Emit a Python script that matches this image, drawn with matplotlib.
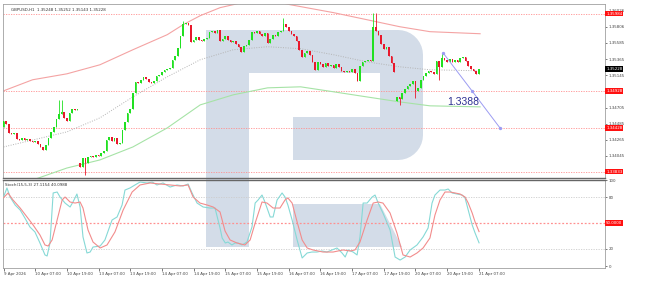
import numpy as np
import matplotlib.pyplot as plt
from matplotlib.patches import Polygon

# GBPUSD H1 closes, bar 0 = 9 Apr 19:00
closes = [
    1.34523, 1.34482, 1.34359, 1.34345, 1.34359, 1.34277, 1.34264, 1.34291, 1.34264, 1.34277,
    1.34250, 1.34236, 1.34250, 1.34209, 1.34168, 1.34127, 1.34195, 1.34291, 1.34373, 1.34441,
    1.34550, 1.34618, 1.34646, 1.34564, 1.34523, 1.34632, 1.34687, 1.34673, 1.34680, 1.33895,
    1.34018, 1.33950, 1.34032, 1.34045, 1.34032, 1.34059, 1.34045, 1.34086, 1.34114, 1.34264,
    1.34304, 1.34250, 1.34291, 1.34209, 1.34223, 1.34400, 1.34509, 1.34632, 1.34687, 1.34905,
    1.35055, 1.35042, 1.35083, 1.35123, 1.35096, 1.35055, 1.35042, 1.35069, 1.35137, 1.35151,
    1.35192, 1.35219, 1.35233, 1.35246, 1.35356, 1.35410, 1.35519, 1.35683, 1.35847, 1.35861,
    1.35833, 1.35601, 1.35629, 1.35669, 1.35629, 1.35615, 1.35642, 1.35650, 1.35738, 1.35751,
    1.35724, 1.35765, 1.35615, 1.35642, 1.35683, 1.35629, 1.35601, 1.35615, 1.35574, 1.35533,
    1.35465, 1.35547, 1.35560, 1.35629, 1.35738, 1.35724, 1.35751, 1.35710, 1.35683, 1.35724,
    1.35588, 1.35642, 1.35697, 1.35683, 1.35738, 1.35751, 1.35847, 1.35806, 1.35751, 1.35710,
    1.35683, 1.35615, 1.35492, 1.35396, 1.35451, 1.35478, 1.35424, 1.35328, 1.35219, 1.35328,
    1.35301, 1.35260, 1.35315, 1.35274, 1.35287, 1.35246, 1.35301, 1.35260, 1.35205, 1.35192,
    1.35205, 1.35192, 1.35233, 1.35178, 1.35069, 1.35274, 1.35328, 1.35342, 1.35356, 1.35342,
    1.35806, 1.35751, 1.35697, 1.35574, 1.35506, 1.35533, 1.35410, 1.35315, 1.35192, 1.34850,
    1.34823, 1.34905, 1.34960, 1.35001, 1.35028, 1.35069, 1.34932, 1.34973, 1.35083, 1.35137,
    1.35178, 1.35205, 1.35192, 1.35164, 1.35342, 1.35260, 1.35383, 1.35356, 1.35328, 1.35369,
    1.35328, 1.35356, 1.35328, 1.35383, 1.35396, 1.35342, 1.35274, 1.35233, 1.35205, 1.35164,
    1.35228,
]
first_open = 1.34441
gap_opens = {29: 1.33950, 149: 1.34796}          # weekend gaps
wick_highs = {21: 1.34809, 22: 1.34809, 68: 1.35888, 106: 1.35929,
              140: 1.35997, 141: 1.35997, 166: 1.35451}
wick_lows = {31: 1.33786, 150: 1.34741, 156: 1.34837, 165: 1.35083}

# envelope lines (sampled at bar positions)
upper_idx = [0, 11, 24, 36.5, 49, 62, 68, 74.5, 82, 87, 97, 108.5, 125, 137.5, 150, 161.5, 180.5]
upper_vals = [1.34932, 1.35083, 1.35164, 1.35287, 1.35492, 1.35697, 1.35833, 1.35956, 1.36065,
              1.36106, 1.36202, 1.36106, 1.35997, 1.35902, 1.35806, 1.35738, 1.35710]
mid_idx = [0, 24, 36.5, 49, 62, 74.5, 87, 100, 112.5, 125, 137.5, 150, 161.5, 180.5]
mid_vals = [1.34168, 1.34373, 1.34564, 1.34850, 1.35123, 1.35356, 1.35492, 1.35533, 1.35506,
            1.35424, 1.35328, 1.35260, 1.35219, 1.35205]
lower_idx = [10, 24, 36.5, 49, 62, 74.5, 87, 100, 112.5, 125, 137.5, 150, 161.5, 180.5]
lower_vals = [1.33704, 1.33881, 1.33991, 1.34168, 1.34427, 1.34741, 1.34878, 1.34973, 1.34987,
              1.34919, 1.34850, 1.34782, 1.34728, 1.34714]

levels = [1.35984, 1.34928, 1.34428, 1.33833]
price_ticks = [1.36026, 1.35806, 1.35585, 1.35365, 1.35145, 1.34705,
               1.34485, 1.34265, 1.34045]

forecast_idx = [166.5, 177.5, 188.0]
forecast_vals = [1.35448, 1.34928, 1.34428]
forecast_label = "1.3388"

# stochastic %K and %D
k_idx = [0, 1.3, 2.5, 4.4, 6.3, 8.1, 10.0, 11.9, 13.8, 15.7, 16.5, 17.6, 18.8, 20.3, 21.4, 23.3,
         25.2, 26.3, 27.8, 29.0, 30.1, 31.6, 32.8, 33.9, 36.6, 38.4, 41.1, 43.0, 44.9, 46.0, 47.9,
         49.8, 51.7, 54.4, 56.3, 58.1, 60.4, 63.1, 65.7, 68.0, 69.9, 71.4, 73.3, 75.6, 78.2, 80.1,
         82.0, 82.8, 84.0, 85.0, 86.5, 87.7, 88.8, 90.3, 92.2, 94.1, 95.3, 96.4, 97.9, 99.0, 101.0,
         102.1, 103.6, 105.5, 106.6, 107.7, 109.3, 111.2, 113.1, 115.0, 116.8, 118.7, 120.6, 122.5,
         124.4, 126.3, 128.2, 129.4, 130.5, 132.4, 133.9, 135.0, 136.2, 137.7, 139.6, 140.7, 141.9,
         143.7, 146.4, 148.3, 150.2, 152.1, 154.0, 156.6, 158.9, 160.8, 162.3, 163.4, 165.3, 167.2,
         168.4, 169.9, 171.8, 173.7, 174.8, 176.0, 177.5, 178.6, 180.1]
k_vals = [80.3, 90.8, 80.3, 71.0, 65.2, 55.9, 45.5, 39.7, 26.9, 13.0, 11.8, 26.9, 85.0, 86.1, 80.3,
          73.3, 68.7, 74.5, 83.8, 68.7, 33.9, 15.3, 16.4, 22.2, 23.4, 30.4, 53.6, 57.1, 71.0, 88.4,
          90.8, 94.3, 97.7, 96.6, 97.7, 94.3, 96.6, 91.9, 94.3, 93.1, 95.4, 85.0, 73.3, 68.7, 67.5,
          67.5, 44.3, 32.7, 26.9, 28.0, 24.6, 26.9, 26.9, 24.6, 28.0, 45.5, 73.3, 76.8, 82.6, 74.5,
          57.1, 57.1, 76.8, 85.0, 80.3, 71.0, 53.6, 30.4, 9.5, 15.3, 16.4, 16.4, 17.6, 16.4, 18.8,
          21.1, 15.3, 10.6, 18.8, 16.4, 13.0, 33.9, 73.3, 73.3, 80.3, 82.6, 73.3, 61.7, 42.0, 10.6,
          7.1, 10.6, 18.8, 24.6, 33.9, 44.3, 73.3, 82.6, 88.4, 88.4, 89.6, 85.0, 83.8, 82.6, 79.2,
          65.2, 47.8, 38.5, 27.1]
d_idx = [0, 1.7, 3.6, 6.3, 8.9, 11.2, 13.8, 15.7, 16.9, 18.4, 20.3, 22.2, 23.3, 25.2, 27.1, 29.0,
         30.1, 32.0, 33.9, 36.6, 39.2, 42.2, 45.3, 48.7, 51.7, 55.5, 59.3, 63.1, 66.9, 69.9, 71.8,
         74.4, 77.1, 79.4, 82.0, 83.9, 85.8, 88.4, 91.4, 93.4, 95.3, 97.9, 99.8, 102.1, 104.7, 106.6,
         107.7, 109.3, 111.2, 113.1, 115.0, 117.2, 121.0, 124.8, 128.6, 131.3, 133.1, 135.0, 137.7,
         140.0, 141.9, 143.7, 146.4, 149.0, 151.3, 154.0, 156.6, 158.9, 161.5, 163.4, 165.3, 167.2,
         169.1, 171.0, 172.9, 174.8, 176.0, 177.5, 178.6, 180.1]
d_vals = [79.5, 84.9, 76.8, 67.5, 57.1, 47.8, 36.2, 24.6, 23.4, 30.4, 53.6, 76.8, 80.3, 74.5, 73.3,
          74.5, 67.5, 42.0, 28.0, 21.1, 24.6, 39.7, 65.2, 86.1, 94.3, 96.6, 95.4, 94.3, 93.1, 94.3,
          80.3, 73.3, 71.0, 68.7, 62.9, 40.8, 30.4, 26.9, 24.6, 30.4, 50.1, 74.5, 73.3, 67.5, 67.5,
          76.8, 79.2, 73.3, 51.3, 30.4, 21.1, 18.8, 16.4, 16.4, 18.8, 17.6, 18.8, 28.0, 53.6, 73.3,
          74.5, 73.3, 61.7, 38.5, 13.0, 10.6, 15.3, 21.1, 32.7, 59.4, 76.8, 86.1, 86.1, 85.0, 83.8,
          80.3, 73.3, 61.7, 51.3, 40.1]

time_labels = ["9 Apr 2026", "10 Apr 07:00", "10 Apr 19:00", "13 Apr 07:00", "13 Apr 19:00",
               "14 Apr 07:00", "14 Apr 19:00", "15 Apr 07:00", "15 Apr 19:00", "16 Apr 07:00",
               "16 Apr 19:00", "17 Apr 07:00", "17 Apr 19:00", "20 Apr 07:00", "20 Apr 19:00",
               "21 Apr 07:00"]

GREEN = '#21e021'
RED = '#e8192c'
FS = 2.9

fig = plt.figure(figsize=(6.52, 2.84), dpi=100)
fig.patch.set_facecolor('white')

# watermark logo behind the chart (pixel coords)
bg = fig.add_axes([0, 0, 1, 1], zorder=0)
bg.set_xlim(0, 652)
bg.set_ylim(284, 0)
bg.axis('off')

def arc(cx, cy, r, a0, a1, n=10):
    t = np.radians(np.linspace(a0, a1, n))
    return list(zip(cx + r * np.cos(t), cy + r * np.sin(t)))

bowl = ([(206, 30)] + arc(398, 55, 25, -90, 0) + arc(398, 135, 25, 0, 90) +
        [(293, 160), (293, 117), (380, 117), (380, 73), (249, 73), (249, 247), (206, 247)])
bg.add_patch(Polygon(bowl, closed=True, fc='#d3dce8', ec='none'))
bg.add_patch(Polygon([(293, 204), (380, 204), (402, 247), (293, 247)], closed=True,
                     fc='#d3dce8', ec='none'))

##############################
# PRICE PANEL
##############################
ax = fig.add_axes([3 / 652, 106 / 284, 602 / 652, 174 / 284], zorder=1)
ax.set_facecolor('none')

n = len(closes)
idx = np.arange(n)
opens = [first_open] + closes[:-1]
for i, o in gap_opens.items():
    opens[i] = o
opens = np.array(opens)
cl = np.array(closes)
highs = np.maximum(opens, cl)
lows = np.minimum(opens, cl)
for i, h in wick_highs.items():
    highs[i] = h
for i, l in wick_lows.items():
    lows[i] = l
colors = [GREEN if c >= o else RED for o, c in zip(opens, cl)]

ax.vlines(idx, lows, highs, colors=colors, lw=0.6, zorder=3)
body = np.maximum(np.abs(cl - opens), 0.00004)
ax.bar(idx, body, bottom=np.minimum(opens, cl), width=0.62, color=colors, lw=0, zorder=3)

ax.plot(upper_idx, upper_vals, color='#f4a3a3', lw=0.8, zorder=2)
ax.plot(lower_idx, lower_vals, color='#a6e3a6', lw=0.8, zorder=2)
ax.plot(mid_idx, mid_vals, color='#b4b4b4', lw=0.7, ls=(0, (1, 1.5)), zorder=2)

for lv in levels:
    ax.axhline(lv, color='#ff8f8f', lw=0.6, ls=(0, (1.5, 1.5)), zorder=1)
    ax.text(1.002, lv, f"{lv:.5f}", transform=ax.get_yaxis_transform(), fontsize=FS,
            color='white', va='center', ha='left', zorder=6, clip_on=False,
            bbox=dict(boxstyle='square,pad=0.2', fc='#ff1010', ec='none'))
ax.text(1.002, closes[-1], f"{closes[-1]:.5f}", transform=ax.get_yaxis_transform(), fontsize=FS,
        color='white', va='center', ha='left', zorder=6, clip_on=False,
        bbox=dict(boxstyle='square,pad=0.2', fc='black', ec='none'))

ax.plot(forecast_idx, forecast_vals, color='#9c9cf2', lw=0.7, marker='o', ms=1.4, zorder=4)
ax.text(168, 1.34780, forecast_label, fontsize=7.5, color='#2e3192', va='center', ha='left',
        family='Liberation Sans', zorder=5)

ax.text(0.013, 0.975, "GBPUSD,H1  1.35248 1.35252 1.35143 1.35228", transform=ax.transAxes,
        fontsize=FS, color='#333333', va='top', ha='left')

ax.set_xlim(-0.2, 227.8)
ax.set_ylim(1.33745, 1.36115)
ax.set_xticks([])
ax.yaxis.tick_right()
ax.set_yticks(price_ticks)
ax.set_yticklabels([f"{p:.5f}" for p in price_ticks])
ax.tick_params(axis='y', labelsize=FS, length=1.5, width=0.5, pad=1, colors='#444444')

##############################
# STOCHASTIC PANEL
##############################
st = fig.add_axes([3 / 652, 16 / 284, 602 / 652, 88 / 284], zorder=1)
st.set_facecolor('none')
st.plot(k_idx, k_vals, color='#86d9d6', lw=0.8, zorder=3)
st.plot(d_idx, d_vals, color='#f28c8c', lw=0.8, zorder=3)
for lv in (80, 20):
    st.axhline(lv, color='#cccccc', lw=0.6, ls=(0, (1.5, 1.5)))
st.axhline(50, color='#ff9090', lw=0.9, ls=(0, (1.5, 1.5)))
st.text(1.002, 50, "50.0000", transform=st.get_yaxis_transform(), fontsize=FS, color='white',
        va='center', ha='left', clip_on=False, zorder=6,
        bbox=dict(boxstyle='square,pad=0.2', fc='#ff1010', ec='none'))
st.text(0.004, 0.965, "Stoch(15,5,3) 27.1154 40.0988", transform=st.transAxes, fontsize=FS,
        color='#333333', va='top', ha='left')

st.set_xlim(-0.2, 227.8)
st.set_ylim(-2.15, 100.06)
st.yaxis.tick_right()
st.set_yticks([100, 80, 20, 0])
st.tick_params(axis='y', labelsize=FS, length=1.5, width=0.5, pad=1, colors='#444444')
st.set_xticks(np.arange(0, 12 * len(time_labels), 12))
st.set_xticklabels(time_labels)
st.tick_params(axis='x', labelsize=FS, length=2, width=0.5, pad=1, colors='#444444')
for lbl in st.get_xticklabels():
    lbl.set_ha('left')

for a in (ax, st):
    for s in a.spines.values():
        s.set_color('#a0a0a0')
        s.set_linewidth(0.6)
ax.spines['bottom'].set_color('#666666')
ax.spines['bottom'].set_linewidth(1.0)
st.spines['top'].set_color('#666666')
st.spines['top'].set_linewidth(1.0)

fig.savefig('out.png', dpi=100, facecolor='white')
